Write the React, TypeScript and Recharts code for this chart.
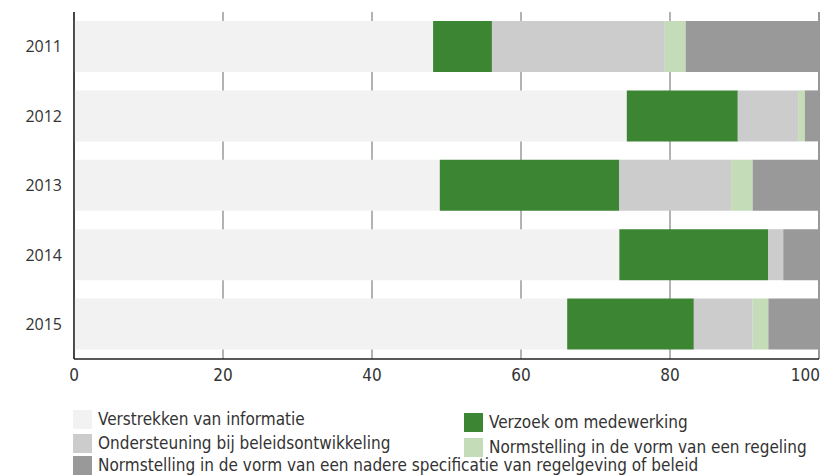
import React from "react";
import { BarChart, Bar, XAxis, YAxis, CartesianGrid, Legend } from "recharts";

// ── Data (percentages per year) ──────────────────────────────────────────────
const years         = ["2011", "2012", "2013", "2014", "2015"];
const verstrekken   = [48.2, 74.2, 49.1, 73.2, 66.2];
const verzoek       = [7.9, 14.9, 24.1, 20.0, 17.0];
const ondersteuning = [23.2, 8.1, 15.0, 2.0, 7.9];
const regeling      = [2.8, 0.9, 2.9, 0, 2.1];
const nadere        = [17.9, 1.9, 8.9, 4.8, 6.8];
const xTicks        = [0, 20, 40, 60, 80, 100];

const data = years.map((year, i) => ({
  year,
  verstrekken:   verstrekken[i],
  verzoek:       verzoek[i],
  ondersteuning: ondersteuning[i],
  regeling:      regeling[i],
  nadere:        nadere[i],
}));

// ── Styling ──────────────────────────────────────────────────────────────────
const C_LIGHT  = "#f2f2f2";
const C_GREEN  = "#3c8633";
const C_GRAY   = "#cccccc";
const C_LGREEN = "#c4dcb8";
const C_DGRAY  = "#999999";

const NARROW = "'Liberation Sans Narrow', 'DejaVu Sans Condensed', 'Open Sans', sans-serif";
const TEXT   = "#333333";

const legendItems = [
  { label: "Verstrekken van informatie", color: C_LIGHT, left: 73, top: 21 },
  { label: "Ondersteuning bij beleidsontwikkeling", color: C_GRAY, left: 73, top: 45 },
  { label: "Normstelling in de vorm van een nadere specificatie van regelgeving of beleid", color: C_DGRAY, left: 73, top: 67 },
  { label: "Verzoek om medewerking", color: C_GREEN, left: 464, top: 24 },
  { label: "Normstelling in de vorm van een regeling", color: C_LGREEN, left: 464, top: 49 },
];

function LegendBox() {
  return (
    <div style={{ position: "relative", width: 820, height: 87 }}>
      {legendItems.map(it => (
        <div
          key={it.label}
          style={{
            position: "absolute", left: it.left, top: it.top,
            display: "flex", alignItems: "center", whiteSpace: "nowrap",
            fontFamily: NARROW, fontSize: 17, color: TEXT, lineHeight: "19px",
          }}
        >
          <span style={{ display: "inline-block", width: 19, height: 19, background: it.color, marginRight: 6 }} />
          {it.label}
        </div>
      ))}
    </div>
  );
}

// last label ("100") pulled left a little so it stays inside the frame
function XTick(props: { x?: number; y?: number; payload?: { value: number } }) {
  const { x = 0, y = 0, payload } = props;
  const v = payload?.value ?? 0;
  return (
    <text
      x={x}
      y={y}
      dy={14}
      textAnchor={v === 100 ? "end" : "middle"}
      dx={v === 100 ? 1 : 0}
      fill={TEXT}
      fontSize={17}
      fontFamily={NARROW}
    >
      {v}
    </text>
  );
}

export default function App() {
  return (
    <div style={{ position: "absolute", left: 0, top: 0, width: 820, height: 476, background: "#fff" }}>
      <BarChart
        width={820}
        height={476}
        data={data}
        layout="vertical"
        margin={{ top: 12, right: 1, bottom: 0, left: 0 }}
        barSize={51}
      >
        <CartesianGrid horizontal={false} stroke="#8a8a8a" strokeWidth={1.3} />
        <XAxis
          type="number"
          domain={[0, 100]}
          ticks={xTicks}
          height={30}
          tickLine={false}
          axisLine={{ stroke: "#222", strokeWidth: 1.5 }}
          tick={<XTick />}
          tickMargin={2}
          interval={0}
        />
        <YAxis
          type="category"
          dataKey="year"
          width={74}
          tickLine={false}
          tickSize={0}
          tickMargin={12}
          axisLine={{ stroke: "#222", strokeWidth: 1.5 }}
          tick={{ fontSize: 16, fill: TEXT, fontFamily: "'Open Sans', sans-serif" }}
        />
        <Legend verticalAlign="bottom" content={() => <LegendBox />} />
        <Bar dataKey="verstrekken" stackId="a" fill={C_LIGHT} isAnimationActive={false} />
        <Bar dataKey="verzoek" stackId="a" fill={C_GREEN} isAnimationActive={false} />
        <Bar dataKey="ondersteuning" stackId="a" fill={C_GRAY} isAnimationActive={false} />
        <Bar dataKey="regeling" stackId="a" fill={C_LGREEN} isAnimationActive={false} />
        <Bar dataKey="nadere" stackId="a" fill={C_DGRAY} isAnimationActive={false} />
      </BarChart>
    </div>
  );
}
